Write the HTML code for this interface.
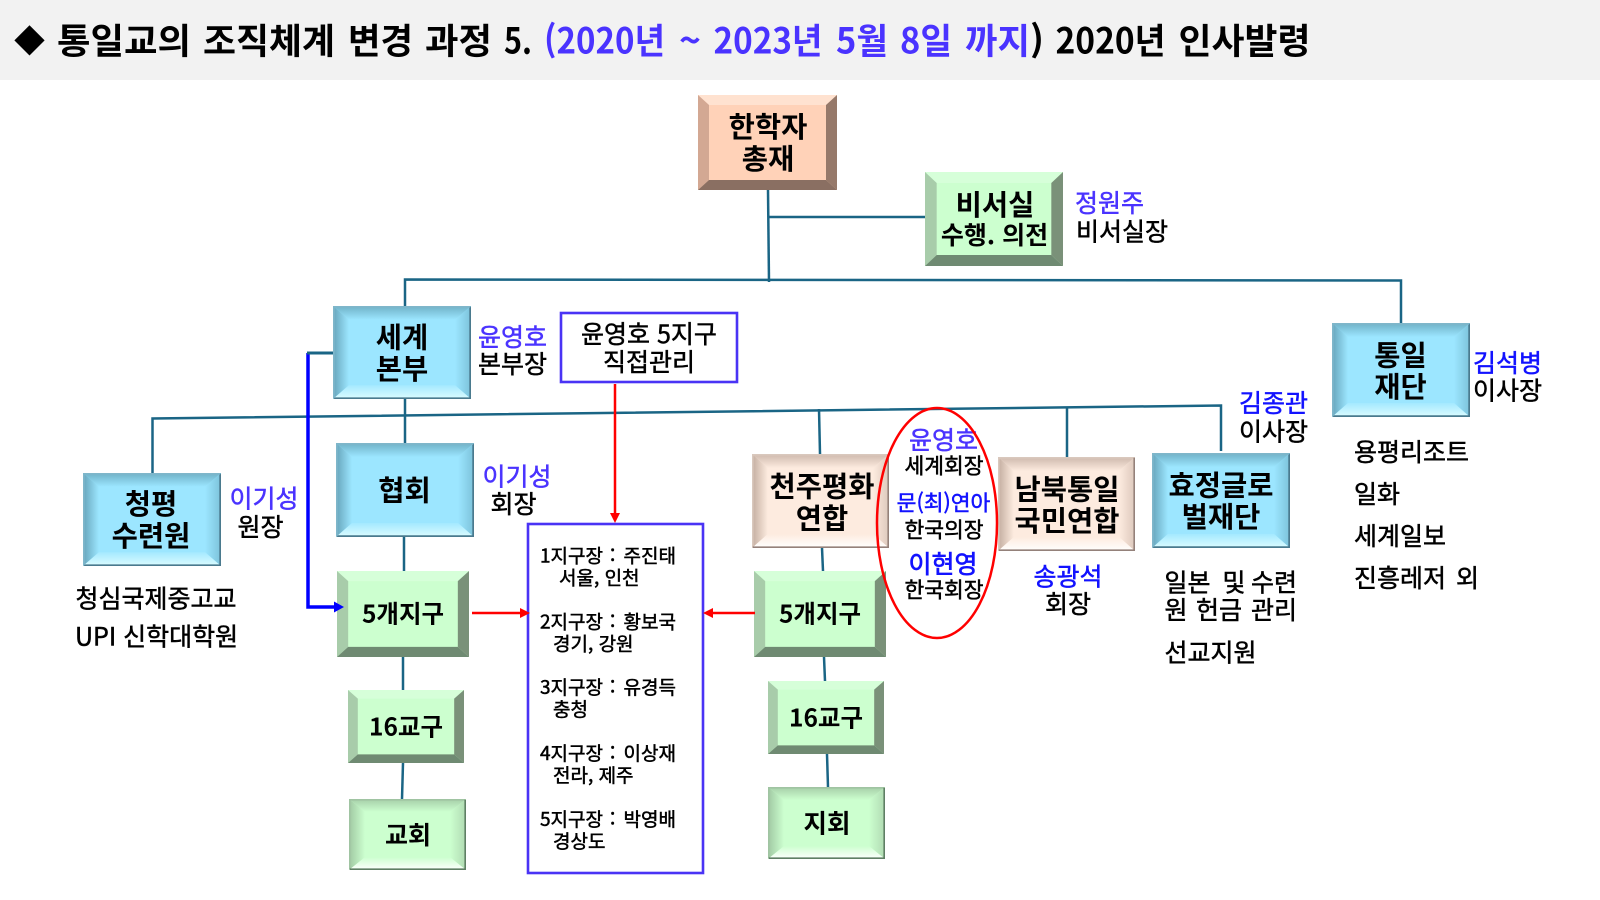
<!DOCTYPE html>
<html lang="ko">
<head>
<meta charset="utf-8">
<title>통일교의 조직체계 변경 과정 5</title>
<style>
html,body{margin:0;padding:0;background:#fff;width:1600px;height:900px;overflow:hidden}
svg{display:block;position:absolute;left:0;top:0}
text{font-family:"Noto Sans CJK KR","Liberation Sans",sans-serif;dominant-baseline:central;fill:#000;stroke:#000;stroke-width:.5}
.m{text-anchor:middle}
.b{font-weight:700;stroke:none}
.p{fill:#4A33FF;stroke:#4A33FF}
.u{fill:#1212FF;stroke:#1212FF}
.t{font-size:35.5px;font-weight:700;stroke:none}
.tb{fill:#4A33FF}
.box{font-size:28.5px;font-weight:700;stroke:none}
.n{font-size:25px}
.s{font-size:21.5px}
.l{font-size:19px}
</style>
</head>
<body>
<svg width="1600" height="900" viewBox="0 0 1600 900" xmlns="http://www.w3.org/2000/svg">
<defs>
<linearGradient id="tb" x1="0" y1="0" x2="0" y2="1"><stop offset="0" stop-color="#6FB0C6"/><stop offset="1" stop-color="#9CE6FF"/></linearGradient>
<linearGradient id="lb" x1="0" y1="0" x2="1" y2="0"><stop offset="0" stop-color="#66A4BA"/><stop offset="1" stop-color="#9CE6FF"/></linearGradient>
<linearGradient id="rb" x1="1" y1="0" x2="0" y2="0"><stop offset="0" stop-color="#7CC2DA"/><stop offset="1" stop-color="#9CE6FF"/></linearGradient>
<linearGradient id="bb" x1="0" y1="1" x2="0" y2="0"><stop offset="0" stop-color="#DCFCFF"/><stop offset="1" stop-color="#A4E9FF"/></linearGradient>
<linearGradient id="tc" x1="0" y1="0" x2="0" y2="1"><stop offset="0" stop-color="#CDB8AC"/><stop offset="1" stop-color="#FDEBDF"/></linearGradient>
<linearGradient id="lc" x1="0" y1="0" x2="1" y2="0"><stop offset="0" stop-color="#C2AC9F"/><stop offset="1" stop-color="#FDEBDF"/></linearGradient>
<linearGradient id="rc" x1="1" y1="0" x2="0" y2="0"><stop offset="0" stop-color="#DCC8BC"/><stop offset="1" stop-color="#FDEBDF"/></linearGradient>
<linearGradient id="bc" x1="0" y1="1" x2="0" y2="0"><stop offset="0" stop-color="#FFFFFF"/><stop offset="1" stop-color="#FDEBDF"/></linearGradient>
<linearGradient id="tg" x1="0" y1="0" x2="0" y2="1"><stop offset="0" stop-color="#A6CEA8"/><stop offset="1" stop-color="#CCFFCF"/></linearGradient>
<linearGradient id="lg" x1="0" y1="0" x2="1" y2="0"><stop offset="0" stop-color="#A0C8A2"/><stop offset="1" stop-color="#CCFFCF"/></linearGradient>
<linearGradient id="rg" x1="1" y1="0" x2="0" y2="0"><stop offset="0" stop-color="#B0DAB2"/><stop offset="1" stop-color="#CCFFCF"/></linearGradient>
<linearGradient id="bg" x1="0" y1="1" x2="0" y2="0"><stop offset="0" stop-color="#FFFFFF"/><stop offset="1" stop-color="#CCFFCF"/></linearGradient>

<symbol id="sb" viewBox="0 0 138 94" preserveAspectRatio="none">
<rect width="138" height="94" fill="#9CE6FF"/>
<polygon points="0,0 138,0 122,14 16,14" fill="url(#tb)"/>
<polygon points="0,0 16,14 16,80 0,94" fill="url(#lb)"/>
<polygon points="138,0 122,14 122,80 138,94" fill="url(#rb)"/>
<polygon points="0,94 16,80 122,80 138,94" fill="url(#bb)"/>
<path d="M137.2 .8V93.2H.8" fill="none" stroke="#4A7A8E" stroke-width="1.8"/>
<path d="M.8 93.2V.8H137.2" fill="none" stroke="#7FB6CA" stroke-width="1.8"/>
</symbol>
<symbol id="sc" viewBox="0 0 138 94" preserveAspectRatio="none">
<rect width="138" height="94" fill="#FDEBDF"/>
<polygon points="0,0 138,0 122,14 16,14" fill="url(#tc)"/>
<polygon points="0,0 16,14 16,80 0,94" fill="url(#lc)"/>
<polygon points="138,0 122,14 122,80 138,94" fill="url(#rc)"/>
<polygon points="0,94 16,80 122,80 138,94" fill="url(#bc)"/>
<path d="M.8 93.2V.8H137.2" fill="none" stroke="#D9C8BD" stroke-width="1.6"/>
<path d="M137.2 .8V93.2H.8" fill="none" stroke="#94817A" stroke-width="1.6"/>
</symbol>
<symbol id="sg" viewBox="0 0 117 72" preserveAspectRatio="none">
<rect width="117" height="72" fill="#CCFFCF"/>
<polygon points="0,0 117,0 101,13 16,13" fill="url(#tg)"/>
<polygon points="0,0 16,13 16,59 0,72" fill="url(#lg)"/>
<polygon points="117,0 101,13 101,59 117,72" fill="url(#rg)"/>
<polygon points="0,72 16,59 101,59 117,72" fill="url(#bg)"/>
<path d="M.8 71.2V.8H116.2" fill="none" stroke="#A0C4A2" stroke-width="1.6"/>
<path d="M116.2 .8V71.2H.8" fill="none" stroke="#5F7F64" stroke-width="1.6"/>
</symbol>
<symbol id="fg" viewBox="0 0 130 85" preserveAspectRatio="none">
<rect width="130" height="85" fill="#CCFFCF"/>
<polygon points="0,0 130,0 119,10 11,10" fill="#D6FFD9"/>
<polygon points="0,0 11,10 11,75 0,85" fill="#A8CCAA"/>
<polygon points="130,0 119,10 119,75 130,85" fill="#7A9179"/>
<polygon points="0,85 11,75 119,75 130,85" fill="#6F8A72"/>
</symbol>
<symbol id="fp" viewBox="0 0 139 95" preserveAspectRatio="none">
<rect width="139" height="95" fill="#FFD2B8"/>
<polygon points="0,0 139,0 128,10 11,10" fill="#FFE2D0"/>
<polygon points="0,0 11,10 11,85 0,95" fill="#D3A893"/>
<polygon points="139,0 128,10 128,85 139,95" fill="#96796A"/>
<polygon points="0,95 11,85 128,85 139,95" fill="#8A6F62"/>
</symbol>
</defs>

<rect x="0" y="0" width="1600" height="80" fill="#F2F2F2"/>

<!-- connectors -->
<g stroke="#1A6585" stroke-width="2.5" fill="none">
<line x1="768" y1="190" x2="769" y2="282"/>
<line x1="768" y1="217" x2="925" y2="217"/>
<polyline points="405,306 405,279.5 1401,280.5 1401,323"/>
<line x1="405" y1="399" x2="405" y2="443"/>
<polyline points="152.5,473 152.5,418.5 1221,405.5 1221,451"/>
<line x1="404" y1="537" x2="404" y2="571"/>
<line x1="819" y1="409" x2="820" y2="454"/>
<line x1="1067" y1="408" x2="1067" y2="457"/>
<line x1="822" y1="548" x2="823" y2="571"/>
<line x1="403" y1="657" x2="403" y2="690"/>
<line x1="403" y1="763" x2="402" y2="799"/>
<line x1="824" y1="657" x2="825" y2="681"/>
<line x1="827" y1="754" x2="828" y2="787"/>
</g>
<polyline points="308,353 308,607 336,607" fill="none" stroke="#0000FF" stroke-width="3.5"/>
<polyline points="307,353 333,353" fill="none" stroke="#1A6585" stroke-width="3"/>

<!-- boxes -->
<use href="#fp" x="698" y="95" width="139" height="95"/>
<use href="#fg" x="925" y="172" width="138" height="94"/>
<use href="#sb" x="333" y="306" width="138" height="93"/>
<use href="#sb" x="336" y="443" width="138" height="94"/>
<use href="#sb" x="83" y="473" width="138" height="93"/>
<use href="#sb" x="1332" y="323" width="138" height="94"/>
<use href="#sb" x="1152" y="453" width="138" height="95"/>
<use href="#sc" x="752" y="454" width="137" height="94"/>
<use href="#sc" x="998" y="457" width="137" height="94"/>
<use href="#fg" x="337" y="571" width="132" height="86"/>
<use href="#fg" x="754" y="571" width="132" height="86"/>
<use href="#fg" x="348" y="690" width="116" height="73"/>
<use href="#fg" x="768" y="681" width="116" height="73"/>
<use href="#sg" x="349" y="799" width="117" height="71"/>
<use href="#sg" x="768" y="787" width="117" height="72"/>

<polygon points="344,607 334,601.5 334,612.5" fill="#0000FF"/>

<rect x="561" y="313" width="176" height="69" fill="#fff" stroke="#4A33F5" stroke-width="2.6"/>
<rect x="528" y="524" width="175" height="349" fill="#fff" stroke="#4A33F5" stroke-width="2.6"/>

<!-- red arrows -->
<g stroke="#FF0000" stroke-width="2.5" fill="none">
<line x1="615" y1="384" x2="615" y2="516"/>
<line x1="472" y1="613" x2="522" y2="613"/>
<line x1="711" y1="613" x2="755" y2="613"/>
</g>
<polygon points="615,523 610,513 620,513" fill="#FF0000"/>
<polygon points="530,613 520,608 520,618" fill="#FF0000"/>
<polygon points="703,613 713,608 713,618" fill="#FF0000"/>

<!-- title -->
<text class="t" x="14" y="39" style="font-size:31px">◆</text>
<text class="t" y="39" x="57" textLength="134" lengthAdjust="spacingAndGlyphs">통일교의</text>
<text class="t" y="39" x="203" textLength="132" lengthAdjust="spacingAndGlyphs">조직체계</text>
<text class="t" y="39" x="348" textLength="65" lengthAdjust="spacingAndGlyphs">변경</text>
<text class="t" y="39" x="425" textLength="67" lengthAdjust="spacingAndGlyphs">과정</text>
<text class="t" y="39" x="504" textLength="28" lengthAdjust="spacingAndGlyphs">5.</text>
<text class="t tb" y="39" x="544" textLength="121" lengthAdjust="spacingAndGlyphs">(2020년</text>
<text class="t tb" y="39" x="679" textLength="22" lengthAdjust="spacingAndGlyphs">~</text>
<text class="t tb" y="39" x="713.5" textLength="109" lengthAdjust="spacingAndGlyphs">2023년</text>
<text class="t tb" y="39" x="836" textLength="52" lengthAdjust="spacingAndGlyphs">5월</text>
<text class="t tb" y="39" x="900" textLength="52" lengthAdjust="spacingAndGlyphs">8일</text>
<text class="t tb" y="39" x="965" textLength="65" lengthAdjust="spacingAndGlyphs">까지</text>
<text class="t" y="39" x="1030" textLength="14" lengthAdjust="spacingAndGlyphs">)</text>
<text class="t" y="39" x="1055.5" textLength="110" lengthAdjust="spacingAndGlyphs">2020년</text>
<text class="t" y="39" x="1178.5" textLength="132" lengthAdjust="spacingAndGlyphs">인사발령</text>

<!-- box labels -->
<text class="box m" x="768" y="125.5">한학자</text>
<text class="box m" x="768" y="157.5">총재</text>
<text class="box m" x="995" y="203.5">비서실</text>
<text class="m b" x="994.5" y="234" style="font-size:25px">수행. 의전</text>
<text class="box m" x="402" y="336">세계</text>
<text class="box m" x="402" y="367.7">본부</text>
<text class="box m" x="404.5" y="489">협회</text>
<text class="box m" x="151" y="502.7">청평</text>
<text class="box m" x="151" y="534.5">수련원</text>
<text class="box m" x="1400.5" y="354">통일</text>
<text class="box m" x="1400.5" y="385.7">재단</text>
<text class="box m" x="822" y="485">천주평화</text>
<text class="box m" x="822" y="517">연합</text>
<text class="box m" x="1067" y="488">남북통일</text>
<text class="box m" x="1067" y="519.5">국민연합</text>
<text class="box m" x="1221" y="484">효정글로</text>
<text class="box m" x="1221" y="515.5">벌재단</text>
<text class="m b" x="403" y="612.8" style="font-size:24.5px">5개지구</text>
<text class="m b" x="820" y="612.8" style="font-size:24.5px">5개지구</text>
<text class="m b" x="406" y="725.8" style="font-size:24.5px">16교구</text>
<text class="m b" x="826" y="716.8" style="font-size:24.5px">16교구</text>
<text class="m b" x="408" y="833.8" style="font-size:25px">교회</text>
<text class="m b" x="827" y="822" style="font-size:25.5px">지회</text>

<!-- side names -->
<text class="n p" x="1075" y="202">정원주</text>
<text class="n" x="1076" y="230.5">비서실장</text>
<text class="n p" x="478" y="336">윤영호</text>
<text class="n" x="478" y="363">본부장</text>
<text class="n p" x="482.5" y="475.5">이기성</text>
<text class="n" x="490.5" y="503">회장</text>
<text class="n p" x="229.5" y="497.5">이기성</text>
<text class="n" x="237.5" y="526">원장</text>
<text class="n" x="75.5" y="597.5">청심국제중고교</text>
<text class="n" x="75" y="635.5">UPI 신학대학원</text>
<text class="n m" x="649" y="333">윤영호 5지구</text>
<text class="n m" x="649" y="361">직접관리</text>

<text class="n m p" x="943.5" y="439">윤영호</text>
<text class="s m" x="944" y="465">세계회장</text>
<text class="s m u" x="943.5" y="502">문(최)연아</text>
<text class="s m" x="944" y="529">한국의장</text>
<text class="n m u" x="943" y="563" style="stroke-width:.7">이현영</text>
<text class="s m" x="944" y="589">한국회장</text>

<text class="n u" x="1473" y="362">김석병</text>
<text class="n" x="1473" y="389.5">이사장</text>
<text class="n u" x="1239" y="402">김종관</text>
<text class="n" x="1239" y="430.5">이사장</text>
<text class="n m u" x="1068" y="575.5">송광석</text>
<text class="n m" x="1068" y="603">회장</text>

<text class="n" y="581.5"><tspan x="1164.5">일본</tspan> <tspan x="1222.5">및</tspan> <tspan x="1251">수련</tspan></text>
<text class="n" y="609"><tspan x="1164.5">원</tspan> <tspan x="1196">헌금</tspan> <tspan x="1251">관리</tspan></text>
<text class="n" x="1164.5" y="651.5">선교지원</text>

<text class="n" x="1354" y="451">용평리조트</text>
<text class="n" x="1354" y="493">일화</text>
<text class="n" x="1354" y="535">세계일보</text>
<text class="n" y="577"><tspan x="1354">진흥레저</tspan> <tspan x="1456">외</tspan></text>

<!-- district list -->
<text class="l" y="554.5"><tspan x="540">1지구장</tspan> <tspan x="610">:</tspan> <tspan x="623.5">주진태</tspan></text>
<text class="l" x="559" y="577">서울, 인천</text>
<text class="l" y="620.5"><tspan x="540">2지구장</tspan> <tspan x="610">:</tspan> <tspan x="623.5">황보국</tspan></text>
<text class="l" x="553" y="643">경기, 강원</text>
<text class="l" y="686"><tspan x="540">3지구장</tspan> <tspan x="610">:</tspan> <tspan x="623.5">유경득</tspan></text>
<text class="l" x="553" y="708.5">충청</text>
<text class="l" y="752"><tspan x="540">4지구장</tspan> <tspan x="610">:</tspan> <tspan x="623.5">이상재</tspan></text>
<text class="l" x="553" y="774.5">전라, 제주</text>
<text class="l" y="818"><tspan x="540">5지구장</tspan> <tspan x="610">:</tspan> <tspan x="623.5">박영배</tspan></text>
<text class="l" x="553" y="840.5">경상도</text>

<ellipse cx="937" cy="523" rx="60" ry="115" fill="none" stroke="#FF0000" stroke-width="2.5"/>
</svg>
</body>
</html>
